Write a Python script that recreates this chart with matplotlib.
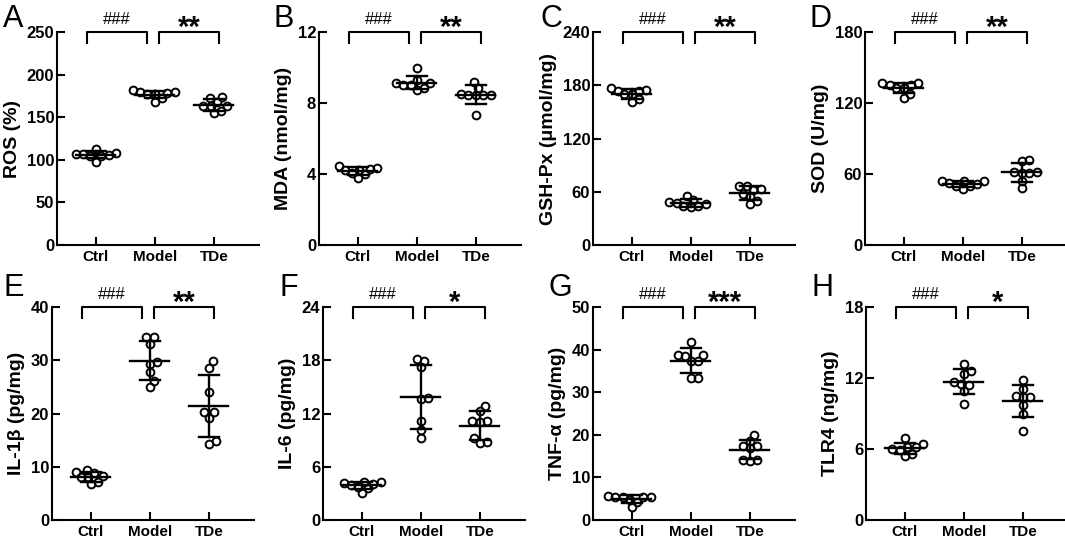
import numpy as np
import matplotlib
matplotlib.use('Agg')
import matplotlib.pyplot as plt
import matplotlib.transforms as mtransforms

plt.rcParams['font.family'] = ['Liberation Sans', 'DejaVu Sans']

groups = ['Ctrl', 'Model', 'TDe']

# values, one list per group (Ctrl, Model, TDe)
ros = [[107, 98, 108, 104, 107, 113, 104, 106],
       [178, 168, 179, 177, 182, 172, 177, 179],
       [172, 163, 168, 155, 174, 157, 163, 163]]
mda = [[4.3, 3.8, 4.25, 4.2, 4.0, 4.45, 4.05, 4.35],
       [9.0, 9.0, 9.95, 9.1, 8.85, 8.75, 9.3, 9.1],
       [8.45, 8.45, 8.45, 9.2, 8.85, 7.35, 8.5, 8.45]]
gsh = [[175, 177, 161, 170, 173, 164, 174, 170],
       [44, 55, 47.5, 49, 44, 51, 45.7, 43],
       [63, 46, 57, 66, 55, 50, 62.5, 67]]
sod = [[135, 137, 124, 132.5, 135, 128, 137, 132.5],
       [54.5, 49.7, 52.5, 49.7, 51.7, 54, 47.7, 54],
       [61.5, 72, 61, 48, 70.8, 61, 54.5, 61.5]]
il1b = [[9.1, 6.7, 8.0, 8.2, 7.1, 8.8, 9.4, 8.0],
        [34.3, 34.4, 33.1, 29.6, 29.3, 27.7, 26.1, 24.9],
        [29.8, 28.6, 24.1, 20.2, 20.2, 19.2, 14.3, 14.8]]
il6 = [[4.1, 3.0, 4.3, 3.75, 4.3, 3.55, 4.15, 3.95],
       [17.95, 18.1, 17.2, 13.8, 13.6, 11.1, 10.1, 9.2],
       [12.9, 12.3, 11.1, 11.0, 11.1, 8.65, 9.2, 8.75]]
tnf = [[5.5, 5.3, 3.0, 5.3, 4.3, 5.65, 4.7, 5.3],
       [37.4, 38.5, 38.7, 38.8, 37.4, 41.8, 33.3, 33.4],
       [20.0, 17.3, 18.6, 17.3, 13.9, 14.2, 14.1, 16.8]]
tlr4 = [[5.45, 6.0, 6.15, 6.9, 6.15, 5.6, 6.4, 5.9],
        [13.2, 12.6, 12.3, 11.5, 11.7, 11.4, 9.8, 10.9],
        [11.85, 11.1, 10.5, 10.4, 10.4, 9.7, 9.0, 7.5]]

panels = [
    ('A', 'ROS (%)', ros, [0, 50, 100, 150, 200, 250], '**'),
    ('B', 'MDA (nmol/mg)', mda, [0, 4, 8, 12], '**'),
    ('C', 'GSH-Px (μmol/mg)', gsh, [0, 60, 120, 180, 240], '**'),
    ('D', 'SOD (U/mg)', sod, [0, 60, 120, 180], '**'),
    ('E', 'IL-1β (pg/mg)', il1b, [0, 10, 20, 30, 40], '**'),
    ('F', 'IL-6 (pg/mg)', il6, [0, 6, 12, 18, 24], '*'),
    ('G', 'TNF-α (pg/mg)', tnf, [0, 10, 20, 30, 40, 50], '***'),
    ('H', 'TLR4 (ng/mg)', tlr4, [0, 6, 12, 18], '*'),
]

W, H = 1065, 538
ax_w = 202
rows = [(32, 213), (307, 213)]
lefts = [[57, 319, 593, 865], [52, 323, 593, 866]]
letter_pos = [[(3, 4), (273, 4), (540, 4), (810, 4)],
              [(4, 273), (280, 273), (548, 273), (812, 273)]]
xlim = (-0.66, -0.66 + ax_w / 59.0)


# simple beeswarm, works in pixels
def swarm(ypix, d):
    order = np.argsort(ypix)
    xs = np.zeros(len(ypix))
    placed = []
    for i in order:
        y = ypix[i]
        cands = [0.0]
        for px, py in placed:
            dy = abs(y - py)
            if dy < d:
                dx = np.sqrt(d * d - dy * dy)
                cands += [px + dx, px - dx]
        cands.sort(key=abs)
        for c in cands:
            if all((c - px) ** 2 + (y - py) ** 2 >= d * d - 1e-6 for px, py in placed):
                xs[i] = c
                break
        placed.append((xs[i], y))
    return xs


fig = plt.figure(figsize=(W / 100, H / 100), dpi=100)

for k, (letter, ylabel, data, yticks, stars) in enumerate(panels):
    r, c = divmod(k, 4)
    top, h = rows[r]
    ax = fig.add_axes([lefts[r][c] / W, 1 - (top + h) / H, ax_w / W, h / H])
    ymax = yticks[-1]
    xppu = ax_w / (xlim[1] - xlim[0])
    yppu = h / ymax

    for g, vals in enumerate(data):
        vals = np.array(vals, dtype=float)
        offs = swarm(vals * yppu, 7.5) / xppu
        m = vals.mean()
        sd = vals.std(ddof=1)
        ax.plot([g - 0.33, g + 0.33], [m, m], color='black', lw=1.7, zorder=2)
        ax.plot([g, g], [m - sd, m + sd], color='black', lw=1.7, zorder=2)
        for yy in (m - sd, m + sd):
            ax.plot([g - 0.17, g + 0.17], [yy, yy], color='black', lw=1.7, zorder=2)
        ax.plot(g + offs, vals, 'o', ms=5.6, mew=1.4, mfc='none', mec='black',
                zorder=3, clip_on=False)

    ax.set_xlim(*xlim)
    ax.set_ylim(0, ymax)
    ax.set_yticks(yticks)
    ax.set_xticks([0, 1, 2])
    ax.set_xticklabels(groups, fontsize=11, fontweight='bold')
    ax.set_yticklabels([str(t) for t in yticks], fontsize=12, fontweight='bold')
    ax.set_ylabel(ylabel, fontsize=14, fontweight='bold', labelpad=4)
    for s in ('top', 'right'):
        ax.spines[s].set_visible(False)
    for s in ('left', 'bottom'):
        ax.spines[s].set_linewidth(1.5)
    ax.tick_params(direction='in', width=1.5, length=6)
    ax.tick_params(axis='y', pad=2)
    ax.tick_params(axis='x', pad=3.5)

    # significance brackets
    trans = mtransforms.blended_transform_factory(ax.transData, ax.transAxes)
    drop = 11.0 / h
    for (x0, x1), lab in (((-0.15, 0.87), '###'), ((1.07, 2.08), stars)):
        ax.plot([x0, x0, x1, x1], [1 - drop, 1, 1, 1 - drop], color='black',
                lw=1.5, transform=trans, clip_on=False)
        if lab == '###':
            ax.text((x0 + x1) / 2, 1 + 8.0 / h, lab, transform=trans, ha='center',
                    va='baseline', fontsize=12)
        else:
            ax.text((x0 + x1) / 2, 1 + 18.0 / h, lab, transform=trans, ha='center',
                    va='top', fontsize=21, fontweight='bold')

    lx, ly = letter_pos[r][c]
    fig.text(lx / W, 1 - ly / H, letter, ha='left', va='top', fontsize=22)

fig.savefig('out.png', dpi=100)
